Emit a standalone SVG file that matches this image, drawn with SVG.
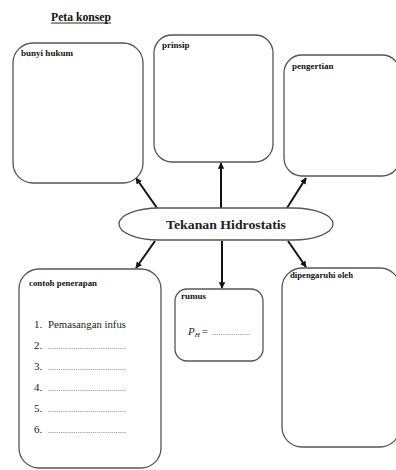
<svg xmlns="http://www.w3.org/2000/svg" width="396" height="470" viewBox="0 0 396 470">
<style>
text{font-family:"Liberation Serif","Times New Roman","DejaVu Serif",serif}
.box{fill:#fff;stroke:#555;stroke-width:1.3}
.lbl{font-size:9px;font-weight:bold;fill:#111}
.item{font-size:11px;fill:#222}
.dots{font-size:7px;fill:#333}
.arr{stroke:#111;stroke-width:2;fill:none;marker-end:url(#ah)}
</style>
<defs>
<marker id="ah" viewBox="0 0 10 10" refX="9" refY="5" markerWidth="3.2" markerHeight="3.2" orient="auto" markerUnits="strokeWidth">
<path d="M0,0 L10,5 L0,10 z" fill="#111"/>
</marker>
</defs>
<rect width="396" height="470" fill="#fff"/>
<g id="title">
<text x="51" y="21" font-size="12" font-weight="bold" textLength="60" lengthAdjust="spacingAndGlyphs" fill="#111">Peta konsep</text>
<line x1="51" y1="23" x2="111" y2="23" stroke="#111" stroke-width="0.9"/>
</g>
<g id="connectors">
<line class="arr" x1="157" y1="208" x2="136" y2="178"/>
<line class="arr" x1="221" y1="208" x2="221" y2="163"/>
<line class="arr" x1="287" y1="208" x2="306" y2="178"/>
<line class="arr" x1="155" y1="241" x2="136" y2="268"/>
<line class="arr" x1="222" y1="241" x2="222" y2="288"/>
<line class="arr" x1="288" y1="241" x2="306" y2="267"/>
</g>
<g id="bunyi-hukum">
<rect class="box" x="13" y="43" width="130" height="140" rx="20" ry="20"/>
<text class="lbl" x="21" y="56" textLength="52" lengthAdjust="spacingAndGlyphs">bunyi hukum</text>
</g>
<g id="prinsip">
<rect class="box" x="154" y="35" width="119" height="127" rx="18" ry="18"/>
<text class="lbl" x="162" y="48">prinsip</text>
</g>
<g id="pengertian">
<rect class="box" x="284" y="55" width="116" height="121" rx="18" ry="18"/>
<text class="lbl" x="292" y="69">pengertian</text>
</g>
<g id="tekanan-hidrostatis">
<rect class="box" x="119" y="208" width="214" height="32" rx="40" ry="16"/>
<text x="226" y="229" text-anchor="middle" font-size="13.5" font-weight="bold" textLength="120" lengthAdjust="spacingAndGlyphs" fill="#222">Tekanan Hidrostatis</text>
</g>
<g id="contoh-penerapan">
<rect class="box" x="19" y="269" width="142" height="199" rx="20" ry="20"/>
<text class="lbl" x="29" y="286" textLength="68" lengthAdjust="spacingAndGlyphs">contoh penerapan</text>
<text class="item" x="34" y="328">1.</text>
<text class="item" x="48" y="328" textLength="78" lengthAdjust="spacingAndGlyphs">Pemasangan infus</text>
<text class="item" x="34" y="349">2.</text>
<text class="dots" x="48" y="349" textLength="78" lengthAdjust="spacing">.....................................</text>
<text class="item" x="34" y="370">3.</text>
<text class="dots" x="48" y="370" textLength="78" lengthAdjust="spacing">.....................................</text>
<text class="item" x="34" y="391">4.</text>
<text class="dots" x="48" y="391" textLength="78" lengthAdjust="spacing">.....................................</text>
<text class="item" x="34" y="412">5.</text>
<text class="dots" x="48" y="412" textLength="78" lengthAdjust="spacing">.....................................</text>
<text class="item" x="34" y="433">6.</text>
<text class="dots" x="48" y="433" textLength="78" lengthAdjust="spacing">.....................................</text>
</g>
<g id="rumus">
<rect class="box" x="175" y="289" width="88" height="72" rx="12" ry="12"/>
<text class="lbl" x="181" y="299">rumus</text>
<text x="188" y="335" font-size="11" fill="#222"><tspan font-style="italic">P</tspan><tspan font-style="italic" font-size="7" dy="2">H</tspan><tspan dy="-2" dx="2">=</tspan></text>
<text class="dots" x="212" y="335" textLength="38" lengthAdjust="spacing">..................</text>
</g>
<g id="dipengaruhi-oleh">
<rect class="box" x="282" y="268" width="118" height="179" rx="20" ry="20"/>
<text class="lbl" x="290" y="278" textLength="63" lengthAdjust="spacingAndGlyphs">dipengaruhi oleh</text>
</g>
</svg>
